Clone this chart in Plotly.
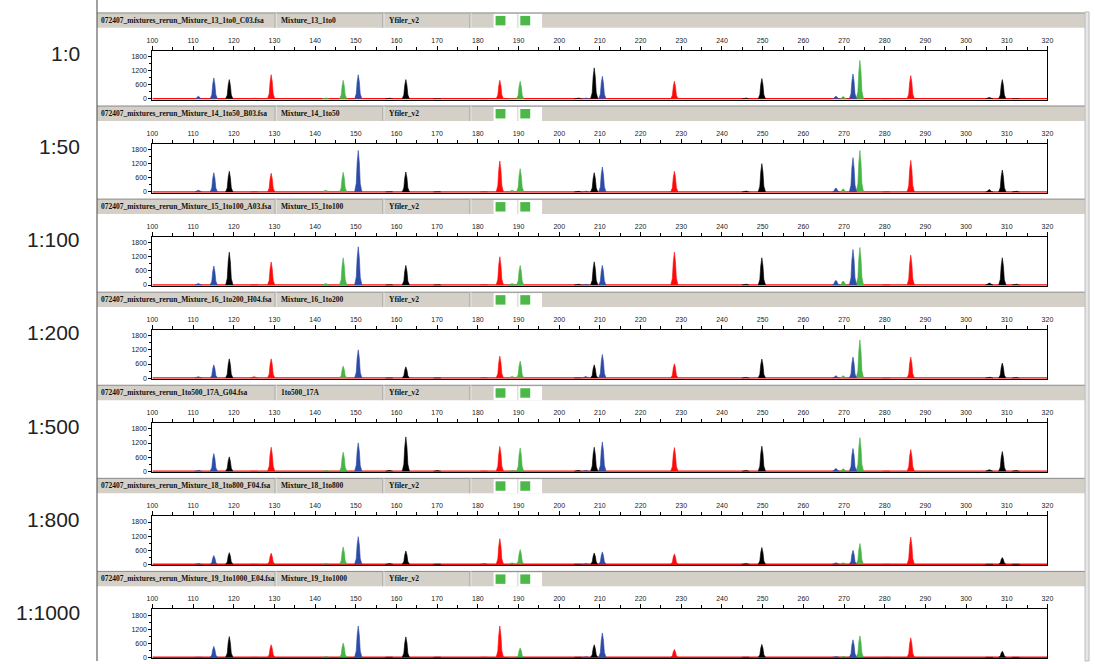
import plotly.graph_objects as go

W, H = 1095, 664

# sample labels
ratios = ["1:0", "1:50", "1:100", "1:200", "1:500", "1:800", "1:1000"]
files = ["072407_mixtures_rerun_Mixture_13_1to0_C03.fsa",
         "072407_mixtures_rerun_Mixture_14_1to50_B03.fsa",
         "072407_mixtures_rerun_Mixture_15_1to100_A03.fsa",
         "072407_mixtures_rerun_Mixture_16_1to200_H04.fsa",
         "072407_mixtures_rerun_1to500_17A_G04.fsa",
         "072407_mixtures_rerun_Mixture_18_1to800_F04.fsa",
         "072407_mixtures_rerun_Mixture_19_1to1000_E04.fsa"]
samples = ["Mixture_13_1to0", "Mixture_14_1to50", "Mixture_15_1to100", "Mixture_16_1to200",
           "1to500_17A", "Mixture_18_1to800", "Mixture_19_1to1000"]
panel_name = "Yfiler_v2"

# peak sizes (bp) and dye of each peak
sizes = [111.3, 115.1, 118.9, 125.0, 129.2, 142.6, 146.9, 150.6, 158.2, 162.3, 170.0,
         181.5, 185.4, 188.4, 190.4, 204.6, 206.5, 208.6, 210.6, 228.3, 245.8, 249.8,
         268.0, 269.8, 272.2, 273.9, 280.4, 286.4, 305.7, 308.9, 312.2]
dyes = ["blue", "blue", "black", "red", "red", "green", "green", "blue", "black", "black", "black",
        "red", "red", "green", "green", "black", "blue", "black", "blue", "red", "black", "black",
        "blue", "green", "blue", "green", "red", "red", "black", "black", "black"]

# peak heights (RFU) per mixture
h_1to0 = [110, 890, 820, 40, 1030, 50, 790, 1030, 40, 820, 30, 30, 790, 30, 750, 50,
          50, 1320, 960, 750, 50, 865, 110, 100, 1060, 1640, 30, 990, 60, 820, 30]
h_1to50 = [70, 820, 880, 30, 795, 70, 835, 1770, 30, 850, 30, 30, 1320, 70, 990, 40,
           50, 820, 1060, 880, 50, 1205, 170, 130, 1460, 1770, 30, 1345, 100, 935, 40]
h_1to100 = [60, 810, 1400, 30, 980, 60, 1160, 1630, 30, 835, 30, 30, 1205, 60, 835, 50,
            40, 990, 835, 1400, 50, 1160, 200, 170, 1515, 1600, 30, 1275, 80, 1160, 50]
h_1to200 = [60, 565, 820, 60, 820, 40, 510, 1205, 30, 480, 30, 40, 935, 70, 725, 30,
            70, 565, 1005, 610, 40, 810, 100, 100, 895, 1630, 30, 895, 50, 640, 40]
h_1to500 = [50, 750, 610, 20, 1020, 40, 810, 1205, 50, 1460, 40, 30, 1050, 40, 990, 50,
            50, 1020, 1245, 1005, 40, 1065, 115, 100, 965, 1430, 30, 920, 60, 835, 40]
h_1to800 = [40, 370, 495, 20, 470, 50, 735, 1175, 40, 565, 30, 40, 1090, 60, 625, 20,
            40, 480, 525, 440, 40, 710, 60, 60, 595, 880, 20, 1160, 10, 285, 10]
h_1to1000 = [30, 465, 885, 20, 535, 50, 605, 1335, 30, 870, 30, 30, 1335, 20, 395, 30,
             40, 535, 1040, 335, 30, 550, 50, 50, 745, 915, 20, 830, 20, 255, 10]
heights = [h_1to0, h_1to50, h_1to100, h_1to200, h_1to500, h_1to800, h_1to1000]

dye_colors = {"blue": "#2d4ca8", "black": "#000000", "red": "#ff0a0a", "green": "#46b446"}

# peak outline template (style only)
PROFILE_DX = [-1.0, -0.55, -0.3, 0, 0.3, 0.55, 1.0]
PROFILE_FY = [0, 0.2, 0.7, 1, 0.7, 0.2, 0]
PEAK_W = 0.9

STEP = 93.5


def px(x):
    return x / W


def py(y):
    return 1 - y / H


fig = go.Figure()
shapes = []
annos = []

for k in range(7):
    top = 51 + STEP * k
    bottom = 100 + STEP * k
    xa = "x" if k == 0 else f"x{k+1}"
    ya = "y" if k == 0 else f"y{k+1}"

    fig.add_trace(go.Scatter(x=[100, 320], y=[0, 0], xaxis=xa, yaxis=ya, mode="lines",
                             line=dict(color="#ff0a0a", width=1.5), hoverinfo="skip"))
    for dye in ["green", "red", "blue", "black"]:
        xs, ys = [], []
        for s, d, h in zip(sizes, dyes, heights[k]):
            if d != dye:
                continue
            xs += [s + PEAK_W * dx for dx in PROFILE_DX] + [None]
            ys += [h * fy for fy in PROFILE_FY] + [None]
        fig.add_trace(go.Scatter(x=xs, y=ys, xaxis=xa, yaxis=ya, mode="lines", fill="toself",
                                 fillcolor=dye_colors[dye],
                                 line=dict(color=dye_colors[dye], width=0.6), hoverinfo="skip"))

    axn = "" if k == 0 else str(k + 1)
    fig.layout["xaxis" + axn] = dict(
        domain=[px(148), px(1053)], anchor=ya, side="top", range=[100, 320],
        tickmode="linear", tick0=100, dtick=10, ticks="outside", ticklen=4, tickcolor="black",
        minor=dict(dtick=5, ticks="outside", ticklen=3, tickcolor="black"),
        showline=True, linecolor="black", linewidth=1, mirror=True, showgrid=False,
        zeroline=False, tickfont=dict(size=7, color="#222", family="Liberation Sans"),
    )
    fig.layout["yaxis" + axn] = dict(
        domain=[py(bottom), py(top)], anchor=xa, range=[-30, 2050],
        tickvals=[0, 600, 1200, 1800], ticks="outside", ticklen=3, tickcolor="black",
        minor=dict(dtick=300, ticks="outside", ticklen=2, tickcolor="black"),
        showline=True, linecolor="black", linewidth=1, mirror=True, showgrid=False,
        zeroline=False, tickfont=dict(size=7, color="#222", family="Liberation Sans"),
    )

    # header bar
    ht = 13 + STEP * k
    hb = 28 + STEP * k
    shapes.append(dict(type="rect", xref="paper", yref="paper", x0=px(92), x1=px(1091),
                       y0=py(hb), y1=py(ht), fillcolor="#d4d0c8", line_width=0, layer="below"))
    shapes.append(dict(type="line", xref="paper", yref="paper", x0=px(92), x1=px(1091),
                       y0=py(ht), y1=py(ht), line=dict(color="#8a8a8a", width=1)))
    for sx in [273, 382, 470]:
        shapes.append(dict(type="line", xref="paper", yref="paper", x0=px(sx), x1=px(sx),
                           y0=py(hb), y1=py(ht), line=dict(color="#f4f4f4", width=1)))
        shapes.append(dict(type="line", xref="paper", yref="paper", x0=px(sx - 1), x1=px(sx - 1),
                           y0=py(hb), y1=py(ht), line=dict(color="#a8a8a8", width=1)))
    for bx in [493, 518]:
        shapes.append(dict(type="rect", xref="paper", yref="paper", x0=px(bx), x1=px(bx + 24),
                           y0=py(hb), y1=py(ht + 1), fillcolor="white", line_width=0))
        shapes.append(dict(type="rect", xref="paper", yref="paper", x0=px(bx + 2), x1=px(bx + 12),
                           y0=py(ht + 12.5), y1=py(ht + 3), fillcolor="#4cb848", line_width=0))

    hfont = dict(size=7.5, color="#111", family="Liberation Serif")
    annos.append(dict(x=px(94), y=py(ht + 7.5), xref="paper", yref="paper", xanchor="left",
                      yanchor="middle", text="<b>" + files[k] + "</b>", showarrow=False, font=hfont))
    annos.append(dict(x=px(276), y=py(ht + 7.5), xref="paper", yref="paper", xanchor="left",
                      yanchor="middle", text="<b>" + samples[k] + "</b>", showarrow=False, font=hfont))
    annos.append(dict(x=px(385), y=py(ht + 7.5), xref="paper", yref="paper", xanchor="left",
                      yanchor="middle", text="<b>" + panel_name + "</b>", showarrow=False, font=hfont))

    annos.append(dict(x=px(77), y=py(54 + STEP * k), xref="paper", yref="paper", xanchor="right",
                      yanchor="middle", text=ratios[k], showarrow=False,
                      font=dict(size=21, color="#222", family="Liberation Sans")))

# left divider and right edge strip
shapes.append(dict(type="line", xref="paper", yref="paper", x0=px(92), x1=px(92), y0=0, y1=1,
                   line=dict(color="#444", width=1)))
shapes.append(dict(type="rect", xref="paper", yref="paper", x0=px(1091), x1=1, y0=0, y1=py(12),
                   fillcolor="#e6e6e6", line=dict(color="#bbbbbb", width=1)))

fig.update_layout(width=W, height=H, margin=dict(l=0, r=0, t=0, b=0),
                  paper_bgcolor="white", plot_bgcolor="white", showlegend=False,
                  shapes=shapes, annotations=annos)

# page at the window's top-left corner, no scrollbars, no toolbar
page_js = ("document.documentElement.style.overflow='hidden';"
           "document.body.style.overflow='hidden';"
           "document.body.style.margin='0';")
fig.write_html("out.html", config={"displayModeBar": False, "responsive": False},
               post_script=page_js)
